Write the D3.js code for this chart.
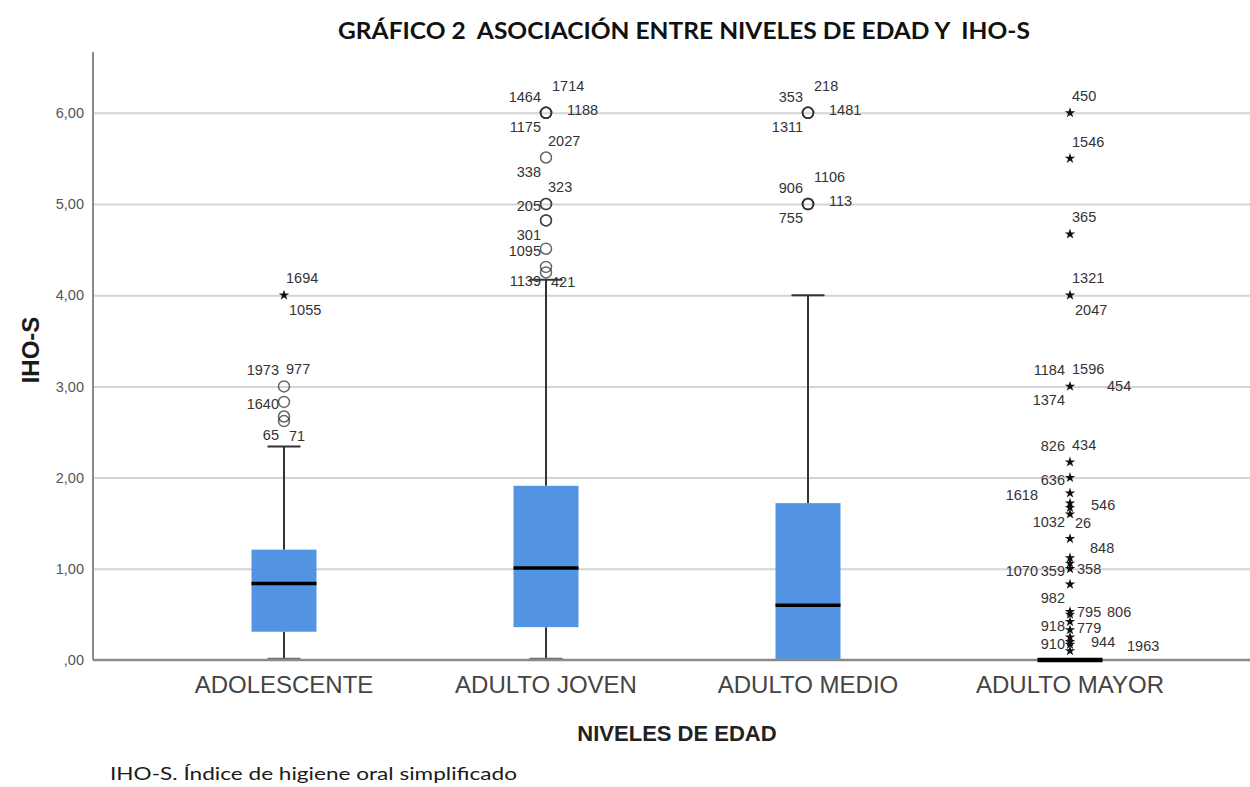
<!DOCTYPE html>
<html><head><meta charset="utf-8">
<script src="https://cdn.jsdelivr.net/npm/d3@7"></script>
<style>body{margin:0;background:#fff}</style></head><body>
<svg id="c" width="1250" height="787"></svg>
<script>
// ---------- data ----------
const categories = ["ADOLESCENTE", "ADULTO JOVEN", "ADULTO MEDIO", "ADULTO MAYOR"];
const q1 = [0.31, 0.36, 0, 0];
const medians = [0.84, 1.01, 0.60, 0];
const q3 = [1.21, 1.91, 1.72, 0];
const whiskerLow = [0, 0, 0, 0];
const whiskerHigh = [2.34, 4.17, 4.0, 0];
const circleOutliers = [
  [3.0, 2.83, 2.67, 2.62],
  [6, 6, 6, 6, 5.51, 5, 5, 4.82, 4.82, 4.51, 4.31, 4.25],
  [6, 6, 6, 6, 5, 5, 5, 5],
  []
];
const starOutliers = [
  [4.0],
  [],
  [],
  [6.0, 5.5, 4.67, 4.0, 3.0, 2.17, 2.0, 1.83, 1.72, 1.67, 1.6, 1.33, 1.12, 1.06, 1.0, 0.83,
   0.53, 0.5, 0.42, 0.33, 0.25, 0.2, 0.17, 0.1]
];
// outlier case labels: [case id, value of the point it belongs to, placement slot]
const outlierLabels = [
  [["1694", 4.0, "tr"], ["1055", 4.0, "br"], ["1973", 3.0, "tl"], ["977", 3.0, "tr"],
   ["1640", 2.83, "l"], ["65", 2.62, "bl"], ["71", 2.62, "br"]],
  [["1464", 6, "tl"], ["1714", 6, "n"], ["1188", 6, "r"], ["1175", 6, "bl"],
   ["2027", 5.51, "tr"], ["338", 5.51, "bl"], ["323", 5, "tr"], ["205", 5, "l"],
   ["301", 4.82, "bl"], ["1095", 4.51, "l"], ["1139", 4.31, "bl"], ["421", 4.31, "br"]],
  [["353", 6, "tl"], ["218", 6, "n"], ["1481", 6, "r"], ["1311", 6, "bl"],
   ["1106", 5, "n"], ["906", 5, "tl"], ["113", 5, "r"], ["755", 5, "bl"]],
  [["450", 6, "tr"], ["1546", 5.5, "tr"], ["365", 4.67, "tr"], ["1321", 4, "tr"], ["2047", 4, "br"],
   ["1184", 3, "tl"], ["1596", 3, "tr"], ["454", 3, "rr"], ["1374", 3, "bl"],
   ["826", 2.17, "tl"], ["434", 2.17, "tr"], ["636", 2.0, "l"], ["1618", 1.83, "ll"],
   ["546", 1.67, "r"], ["1032", 1.67, "bl"], ["26", 1.67, "br"], ["848", 1.12, "ur"],
   ["1070", 1.0, "ll"], ["359", 1.0, "l"], ["358", 1.0, "rn"], ["982", 0.83, "bl"],
   ["795", 0.53, "rn"], ["806", 0.53, "rr"], ["918", 0.53, "bl"], ["779", 0.35, "rn"],
   ["944", 0.17, "r"], ["1963", 0.17, "rrr"], ["910", 0.2, "l"]]
];
const yTicks = [0, 1, 2, 3, 4, 5, 6];
const yTickLabels = [",00", "1,00", "2,00", "3,00", "4,00", "5,00", "6,00"];
const titleText = "GRÁFICO 2  ASOCIACIÓN ENTRE NIVELES DE EDAD Y  IHO-S";
const xTitle = "NIVELES DE EDAD";
const yTitle = "IHO-S";
const footnote = "IHO-S. Índice de higiene oral simplificado";

// ---------- layout ----------
(function () {
const svg = d3.select("#c");
const pLeft = 93, pRight = 1250, pTop = 52, pBottom = 660;
const y = d3.scaleLinear().domain([0, 6.667]).range([pBottom, pTop]);
const x = d3.scaleBand().domain(categories).range([153, 1201]);
const cx = c => x(c) + x.bandwidth() / 2;
const boxW = 65, capW = 33;
const slots = {
  tl: ["end", -5, -16], tr: ["start", 2, -17], n: ["start", 6, -27],
  r: ["start", 21, -3], rn: ["start", 7, 0], rr: ["start", 37, 0], rrr: ["start", 57, 1],
  l: ["end", -5, 2], ll: ["end", -32, 2], bl: ["end", -5, 14], br: ["start", 5, 15],
  ur: ["start", 20, -10]
};

// gridlines
svg.append("g").attr("transform", `translate(${pLeft},0)`)
  .call(d3.axisLeft(y).tickValues(yTicks.slice(1)).tickSize(-(pRight - pLeft)).tickFormat(""))
  .call(g => g.select(".domain").remove())
  .call(g => g.selectAll("line").attr("stroke", "#d4d4d4").attr("stroke-width", 2));

// y axis labels
svg.append("g").attr("transform", `translate(${pLeft},0)`)
  .call(d3.axisLeft(y).tickValues(yTicks).tickFormat((d, i) => yTickLabels[i]).tickSize(0).tickPadding(9))
  .call(g => g.select(".domain").remove())
  .call(g => g.selectAll("text").attr("font-family", "Liberation Sans, Arial, sans-serif")
    .attr("font-size", 14.5).attr("fill", "#555"));

// x axis labels
svg.append("g").attr("transform", `translate(0,${pBottom})`)
  .call(d3.axisBottom(x).tickSize(0).tickPadding(16))
  .call(g => g.select(".domain").remove())
  .call(g => g.selectAll("text").attr("font-family", "Liberation Sans, Arial, sans-serif")
    .attr("font-size", 24).attr("fill", "#444"));

// boxes
categories.forEach((c, i) => {
  const xc = cx(c);
  const g = svg.append("g");
  const wl = "#333";
  if (whiskerHigh[i] > q3[i]) {
    g.append("line").attr("x1", xc).attr("x2", xc).attr("y1", y(q3[i])).attr("y2", y(whiskerHigh[i]))
      .attr("stroke", wl).attr("stroke-width", 2);
    g.append("line").attr("x1", xc - capW / 2).attr("x2", xc + capW / 2)
      .attr("y1", y(whiskerHigh[i])).attr("y2", y(whiskerHigh[i])).attr("stroke", wl).attr("stroke-width", 2);
  }
  if (whiskerLow[i] < q1[i]) {
    g.append("line").attr("x1", xc).attr("x2", xc).attr("y1", y(q1[i])).attr("y2", y(whiskerLow[i]))
      .attr("stroke", wl).attr("stroke-width", 2);
    g.append("line").attr("x1", xc - capW / 2).attr("x2", xc + capW / 2)
      .attr("y1", y(whiskerLow[i]) - 1).attr("y2", y(whiskerLow[i]) - 1).attr("stroke", "#666").attr("stroke-width", 2.5);
  }
  if (q3[i] > q1[i]) {
    g.append("rect").attr("x", xc - boxW / 2).attr("width", boxW)
      .attr("y", y(q3[i])).attr("height", y(q1[i]) - y(q3[i])).attr("fill", "#5294e2");
  }
});

// axis frame
svg.append("line").attr("x1", pLeft).attr("x2", pLeft).attr("y1", pTop).attr("y2", pBottom)
  .attr("stroke", "#8a8a8a").attr("stroke-width", 2);
svg.append("line").attr("x1", pLeft).attr("x2", pRight).attr("y1", pBottom).attr("y2", pBottom)
  .attr("stroke", "#8a8a8a").attr("stroke-width", 2.5);

// medians
categories.forEach((c, i) => {
  const xc = cx(c);
  svg.append("line").attr("x1", xc - boxW / 2).attr("x2", xc + boxW / 2)
    .attr("y1", y(medians[i])).attr("y2", y(medians[i]))
    .attr("stroke", "#000").attr("stroke-width", q3[i] > q1[i] ? 3.5 : 4.5);
});

// outliers
categories.forEach((c, i) => {
  const xc = cx(c);
  svg.append("g").selectAll("circle").data(circleOutliers[i]).join("circle")
    .attr("cx", xc).attr("cy", d => y(d)).attr("r", 5.5)
    .attr("fill", "none").attr("stroke", "#333").attr("stroke-width", 1.5).attr("stroke-opacity", 0.75);
  svg.append("g").selectAll("path").data(starOutliers[i]).join("path")
    .attr("d", d3.symbol(d3.symbolStar, 34)())
    .attr("transform", d => `translate(${xc},${y(d)})`).attr("fill", "#111");
  svg.append("g").selectAll("text").data(outlierLabels[i]).join("text")
    .attr("x", d => xc + slots[d[2]][1]).attr("y", d => y(d[1]) + slots[d[2]][2])
    .attr("dy", "0.35em").attr("text-anchor", d => slots[d[2]][0])
    .attr("font-family", "Liberation Sans, Arial, sans-serif").attr("font-size", 14.5)
    .attr("fill", "#333").text(d => d[0]);
});

// titles
svg.append("text").attr("x", 338).attr("y", 39).attr("textLength", 692).attr("lengthAdjust", "spacingAndGlyphs")
  .style("white-space", "pre")
  .attr("font-family", "Lato, 'Open Sans', sans-serif").attr("font-weight", "bold").attr("font-size", 23)
  .attr("fill", "#111").text(titleText);
svg.append("text").attr("x", 677).attr("y", 741).attr("text-anchor", "middle")
  .attr("font-family", "Liberation Sans, Arial, sans-serif").attr("font-weight", "bold").attr("font-size", 22)
  .attr("fill", "#222").text(xTitle);
svg.append("text").attr("transform", "translate(39,350) rotate(-90)").attr("text-anchor", "middle")
  .attr("font-family", "Liberation Sans, Arial, sans-serif").attr("font-weight", "bold").attr("font-size", 24)
  .attr("fill", "#1a1a1a").text(yTitle);
svg.append("text").attr("x", 110).attr("y", 780).attr("textLength", 407).attr("lengthAdjust", "spacingAndGlyphs")
  .attr("font-family", "Lato, 'Open Sans', sans-serif").attr("font-size", 17)
  .attr("fill", "#1a1a1a").text(footnote);
})();
</script></body></html>
